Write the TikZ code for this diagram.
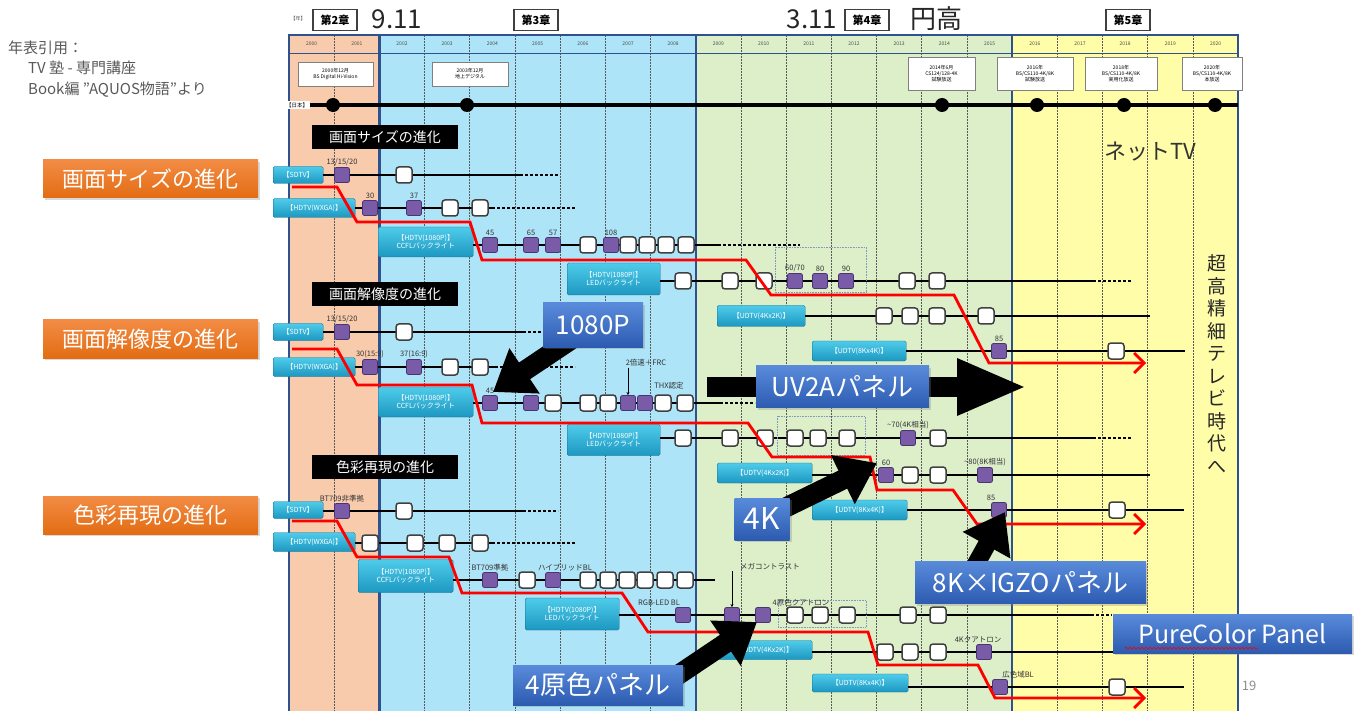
\documentclass[tikz,border=0pt]{standalone}
\usepackage{fontspec}
\setmainfont{Noto Sans CJK JP}
\usepackage{xcolor}
\usepackage{tikz}
\usetikzlibrary{calc, positioning, arrows.meta, shadows, decorations.pathmorphing}

\definecolor{peach}{HTML}{F8CBAD}
\definecolor{skyB}{HTML}{AEE4F7}
\definecolor{leaf}{HTML}{DCEFC9}
\definecolor{lemon}{HTML}{FFFDA8}
\definecolor{frameB}{HTML}{2F528F}
\definecolor{purp}{HTML}{7A5BA8}
\definecolor{purpD}{HTML}{4B3472}
\definecolor{cyanT}{HTML}{4FCBEA}
\definecolor{cyanB}{HTML}{1C98C2}
\definecolor{oranT}{HTML}{F28C45}
\definecolor{oranB}{HTML}{E36C12}
\definecolor{blueT}{HTML}{5A8BDB}
\definecolor{blueB}{HTML}{2C5BB0}

\pgfdeclarelayer{front}
\pgfsetlayers{main,front}

\begin{document}
\begin{tikzpicture}[x=1pt, y=-1pt, >=latex,
    tvlbl/.style={anchor=west, rounded corners=1.5pt, top color=cyanT, bottom color=cyanB,
        draw=cyanB!70!black, line width=0.4pt, text=white, align=center,
        font=\fontsize{7}{8}\selectfont, inner sep=1pt},
    psq/.style={rounded corners=2pt, minimum size=15pt, inner sep=0pt, fill=purp, draw=purpD, line width=0.8pt},
    wsq/.style={rounded corners=3pt, minimum size=16pt, inner sep=0pt, fill=white, draw=black!75, line width=1.5pt},
    numtag/.style={font=\fontsize{7.5}{8}\selectfont, text=black!80, inner sep=1pt},
    rowline/.style={line width=2.8pt},
    rowdash/.style={line width=1.3pt, dash pattern=on 3pt off 2pt},
    redpath/.style={line width=2.8pt, red, -{Straight Barb[length=10pt, width=20pt]}},
    secbox/.style={fill=black, text=white, font=\fontsize{14}{15}\selectfont, minimum width=146pt, minimum height=24pt, inner sep=0pt},
    orglbl/.style={top color=oranT, bottom color=oranB, text=white, font=\fontsize{22}{24}\selectfont,
        minimum width=215pt, minimum height=38pt, inner sep=0pt,
        drop shadow={opacity=0.3, shadow xshift=1.5pt, shadow yshift=-2pt}},
    bluebox/.style={top color=blueT, bottom color=blueB, text=white, font=\fontsize{26}{28}\selectfont,
        minimum height=42pt, inner xsep=2pt, drop shadow={opacity=0.3, shadow xshift=2pt, shadow yshift=-2pt}},
    bigarr/.style={line width=20pt, -{Triangle[length=38pt, width=52pt]}},
    evbox/.style={fill=white, draw=black!50, line width=0.6pt, align=center, font=\fontsize{5}{6}\selectfont,
        inner sep=1pt, drop shadow={opacity=0.25, shadow xshift=1pt, shadow yshift=-1pt}},
    chap/.style={draw=black!75, line width=1.4pt, fill=white, font=\bfseries\fontsize{11}{12}\selectfont,
        minimum width=44pt, minimum height=21pt, inner sep=1pt},
    bigdate/.style={font=\fontsize{26}{28}\selectfont, text=black!85, inner sep=0pt},
    srcnote/.style={anchor=west, text=black!65, font=\fontsize{15}{16}\selectfont, inner sep=0pt},
    yr/.style={font=\fontsize{5}{6}\selectfont, text=black!70, inner sep=0pt},
    yrgrid/.style={black!65, line width=0.7pt, dash pattern=on 2pt off 1pt},
    eraline/.style={frameB, line width=2.4pt},
    dotbox/.style={draw=frameB!60, line width=0.6pt, densely dotted},
    evdot/.style={circle, fill=black, minimum size=14pt, inner sep=0pt}
]
\useasboundingbox (0,0) rectangle (1360,711);

% Nền các giai đoạn
\fill[peach] (289,35) rectangle (379.4,711);
\fill[skyB] (379.4,35) rectangle (695.8,711);
\fill[leaf] (695.8,35) rectangle (1012.2,711);
\fill[lemon] (1012.2,35) rectangle (1238,711);

% Năm
\foreach \i in {0,...,20}
    \node[yr] (yr\i) at ({289+(\i+0.5)*45.2},44) {\pgfmathparse{int(2000+\i)}\pgfmathresult};
\foreach \i in {1,3,4,...,8,10,11,...,15,17,18,19,20}
    \draw[yrgrid] ({289+\i*45.2},35) -- ({289+\i*45.2},711);
\draw[frameB, line width=0.8pt] (289,53) -- (1238,53);
\foreach \i in {0,2,9,16,21}
    \draw[eraline] ({289+\i*45.2},35) -- ({289+\i*45.2},711);
\draw[eraline] (288,35) -- (1239,35);

% Chương
\node[yr] (yrtag) at (298,19) {【年】};
\node[chap] (ch2) at (335,20) {第2章};
\node[bigdate] (d911) at (397,19) {9.11};
\node[chap] (ch3) at (536,20) {第3章};
\node[bigdate] (d311) at (812,19) {3.11};
\node[chap] (ch4) at (867,20) {第4章};
\node[bigdate] (yen) at (936,19) {円高};
\node[chap] (ch5) at (1128,20) {第5章};

% Nguồn
\node[srcnote] (src1) at (8,48) {年表引用：};
\node[srcnote] (src2) at (28,68) {TV 塾 - 専門講座};
\node[srcnote] (src3) at (28,90) {Book編 "AQUOS物語"より};

% Sự kiện phát sóng
\node[evbox, minimum width=75pt, minimum height=24pt] (ev1) at (335.5,74) {2000年12月\\BS Digital Hi-Vision};
\node[evbox, minimum width=76pt, minimum height=24pt] (ev2) at (470,74) {2003年12月\\地上デジタル};
\node[evbox, minimum width=67pt, minimum height=33pt] (ev3) at (941.5,73.5) {2014年6月\\CS124/128-4K\\試験放送};
\node[evbox, minimum width=76pt, minimum height=33pt] (ev4) at (1035,73.5) {2016年\\BS/CS110-4K/8K\\試験放送};
\node[evbox, minimum width=72pt, minimum height=33pt] (ev5) at (1121,73.5) {2018年\\BS/CS110-4K/8K\\実用化放送};
\node[evbox, minimum width=60pt, minimum height=33pt] (ev6) at (1212,73.5) {2020年\\BS/CS110-4K/8K\\本放送};

% Trục thời gian
\node[fill=white, font=\fontsize{5.5}{6}\selectfont, inner sep=1.5pt] (jp) at (297,105) {【日本】};
\coordinate (tlend) at (1238,105);
\draw[line width=3.5pt] (jp.east) -- (tlend);
\foreach \x [count=\i] in {333,467,942,1037,1124,1215}
    \node[evdot] (pt\i) at (\x,105) {};

% Tiêu đề
\node[secbox] (h1) at (385,137.5) {画面サイズの進化};
\node[secbox] (h2) at (385,294.5) {画面解像度の進化};
\node[secbox] (h3) at (385,467) {色彩再現の進化};
\node[orglbl] (o1) at (150.5,179) {画面サイズの進化};
\node[orglbl] (o2) at (150.5,339) {画面解像度の進化};
\node[orglbl] (o3) at (150.5,515) {色彩再現の進化};
\node[font=\fontsize{22}{24}\selectfont, text=black!80] (net) at (1150,152) {ネットTV};
\node[font=\fontsize{19}{22.5}\selectfont, align=center, inner sep=0pt, text=black!85] (uhd) at (1217,364)
    {超\\高\\精\\細\\テ\\レ\\ビ\\時\\代\\へ};

% ---------- 画面サイズの進化 ----------
\node[tvlbl, minimum width=50pt, minimum height=17pt] (a1) at (273,175) {【SDTV】};
\node[tvlbl, minimum width=82pt, minimum height=19pt] (a2) at (273,208) {【HDTV(WXGA)】};
\node[tvlbl, minimum width=95pt, minimum height=30pt] (a3) at (378,242) {【HDTV(1080P)】\\CCFLバックライト};
\node[tvlbl, minimum width=93pt, minimum height=32pt] (a4) at (567,279) {【HDTV(1080P)】\\LEDバックライト};
\node[tvlbl, minimum width=88pt, minimum height=21pt] (a5) at (717,316) {【UDTV(4Kx2K)】};
\node[tvlbl, minimum width=94pt, minimum height=20pt] (a6) at (812,351) {【UDTV(8Kx4K)】};
\coordinate (a1e) at (520,175); \coordinate (a1d) at (558,175);
\coordinate (a2e) at (492,208); \coordinate (a2d) at (575,208);
\coordinate (a3e) at (718,245); \coordinate (a3d) at (800,245);
\coordinate (a4e) at (1093,281); \coordinate (a4d) at (1132,281);
\coordinate (a5e) at (1150,316);
\coordinate (a6e) at (1185,351);
\draw[rowline] (a1.east) -- (a1e); \draw[rowdash] (a1e) -- (a1d);
\draw[rowline] (a2.east) -- (a2e); \draw[rowdash] (a2e) -- (a2d);
\draw[rowline] (a3.east |- a3e) -- (a3e); \draw[rowdash] (a3e) -- (a3d);
\draw[rowline] (a4.east |- a4e) -- (a4e); \draw[rowdash] (a4e) -- (a4d);
\draw[rowline] (a5.east) -- (a5e);
\draw[rowline] (a6.east) -- (a6e);
\draw[dotbox] (775,247) rectangle (866,292);
\node[psq, label={[numtag]above:13/15/20}] (a1s1) at (342,175) {};
\node[wsq] (a1s2) at (404,175) {};
\node[psq, label={[numtag]above:30}] (a2s1) at (370,208) {};
\node[psq, label={[numtag]above:37}] (a2s2) at (414,208) {};
\foreach \x [count=\k] in {450,480} \node[wsq] (a2w\k) at (\x,208) {};
\node[psq, label={[numtag]above:45}] (a3s1) at (490,245) {};
\node[psq, label={[numtag]above:65}] (a3s2) at (531,245) {};
\node[psq, label={[numtag]above:57}] (a3s3) at (553,245) {};
\node[wsq] (a3s4) at (588,245) {};
\node[psq, label={[numtag]above:108}] (a3s5) at (611,245) {};
\foreach \x [count=\k] in {628,647,666,686} \node[wsq] (a3w\k) at (\x,245) {};
\foreach \x [count=\k] in {683,730,764,907,937} \node[wsq] (a4w\k) at (\x,281) {};
\node[psq, label={[numtag]above:60/70}] (a4s1) at (795,281) {};
\node[psq, label={[numtag]above:80}] (a4s2) at (820,281) {};
\node[psq, label={[numtag]above:90}] (a4s3) at (846,281) {};
\foreach \x [count=\k] in {884,910,937,986} \node[wsq] (a5w\k) at (\x,316) {};
\node[psq, label={[numtag]above:85}] (a6s1) at (999,351) {};
\node[wsq] (a6s2) at (1116,351) {};

% ---------- 画面解像度の進化 ----------
\node[tvlbl, minimum width=50pt, minimum height=17pt] (b1) at (273,332) {【SDTV】};
\node[tvlbl, minimum width=82pt, minimum height=19pt] (b2) at (273,367) {【HDTV(WXGA)】};
\node[tvlbl, minimum width=95pt, minimum height=30pt] (b3) at (378,402) {【HDTV(1080P)】\\CCFLバックライト};
\node[tvlbl, minimum width=93pt, minimum height=31pt] (b4) at (567,440) {【HDTV(1080P)】\\LEDバックライト};
\node[tvlbl, minimum width=95pt, minimum height=20pt] (b5) at (717,473) {【UDTV(4Kx2K)】};
\node[tvlbl, minimum width=95pt, minimum height=20pt] (b6) at (812,510) {【UDTV(8Kx4K)】};
\coordinate (b1e) at (523,332); \coordinate (b1d) at (550,332);
\coordinate (b2e) at (495,367); \coordinate (b2d) at (575,367);
\coordinate (b3e) at (720,403); \coordinate (b3d) at (755,403);
\coordinate (b4e) at (1093,438); \coordinate (b4d) at (1132,438);
\coordinate (b5e) at (1150,475);
\coordinate (b6e) at (1184,510);
\draw[rowline] (b1.east) -- (b1e); \draw[rowdash] (b1e) -- (b1d);
\draw[rowline] (b2.east) -- (b2e); \draw[rowdash] (b2e) -- (b2d);
\draw[rowline] (b3.east |- b3e) -- (b3e); \draw[rowdash] (b3e) -- (b3d);
\draw[rowline] (b4.east |- b4e) -- (b4e); \draw[rowdash] (b4e) -- (b4d);
\draw[rowline] (b5.east |- b5e) -- (b5e);
\draw[rowline] (b6.east) -- (b6e);
\draw[dotbox] (777,416) rectangle (865,455);
\node[psq, label={[numtag]above:13/15/20}] (b1s1) at (342,332) {};
\node[wsq] (b1s2) at (404,332) {};
\node[psq, label={[numtag]above:{30(15:9)}}] (b2s1) at (370,367) {};
\node[psq, label={[numtag]above:{37(16:9)}}] (b2s2) at (414,367) {};
\foreach \x [count=\k] in {450,480} \node[wsq] (b2w\k) at (\x,367) {};
\node[psq, label={[numtag]above:45}] (b3s1) at (490,403) {};
\node[psq, label={[numtag]above:65}] (b3s2) at (531,403) {};
\foreach \x [count=\k] in {553,588,608,663,685} \node[wsq] (b3w\k) at (\x,403) {};
\node[psq] (b3s6) at (628,403) {};
\node[psq] (b3s7) at (645,403) {};
\node[numtag] (frc) at (646,363) {2倍速＋FRC};
\node[numtag] (thx) at (669,386) {THX認定};
\draw[-{Stealth[length=3pt, width=3pt]}, line width=0.6pt] (frc.south -| b3s6) -- (b3s6.north);
\foreach \x [count=\k] in {683,730,765,795,818,847,938} \node[wsq] (b4w\k) at (\x,438) {};
\node[psq, label={[numtag]above:\textasciitilde70(4K相当)}] (b4s1) at (908,438) {};
\node[psq, label={[numtag]above:60}] (b5s1) at (886,475) {};
\foreach \x [count=\k] in {910,938} \node[wsq] (b5w\k) at (\x,475) {};
\node[psq, label={[numtag]above:\textasciitilde80(8K相当)}] (b5s2) at (985,475) {};
\node[psq, label={[numtag, xshift=-8pt]above:85}] (b6s1) at (999,510) {};
\node[wsq] (b6s2) at (1117,510) {};

% ---------- 色彩再現の進化 ----------
\node[tvlbl, minimum width=50pt, minimum height=17pt] (c1) at (273,510) {【SDTV】};
\node[tvlbl, minimum width=82pt, minimum height=19pt] (c2) at (273,542) {【HDTV(WXGA)】};
\node[tvlbl, minimum width=95pt, minimum height=33pt] (c3) at (358,576) {【HDTV(1080P)】\\CCFLバックライト};
\node[tvlbl, minimum width=94pt, minimum height=32pt] (c4) at (525,614) {【HDTV(1080P)】\\LEDバックライト};
\node[tvlbl, minimum width=95pt, minimum height=19pt] (c5) at (717,650) {【UDTV(4Kx2K)】};
\node[tvlbl, minimum width=96pt, minimum height=18pt] (c6) at (812,683) {【UDTV(8Kx4K)】};
\coordinate (c1e) at (523,511); \coordinate (c1d) at (558,511);
\coordinate (c2e) at (492,543); \coordinate (c2d) at (575,543);
\coordinate (c3e) at (715,580);
\coordinate (c4e) at (1091,615); \coordinate (c4d) at (1112,615);
\coordinate (c5e) at (1115,652);
\coordinate (c6e) at (1184,687);
\draw[rowline] (c1.east |- c1e) -- (c1e); \draw[rowdash] (c1e) -- (c1d);
\draw[rowline] (c2.east |- c2e) -- (c2e); \draw[rowdash] (c2e) -- (c2d);
\draw[rowline] (c3.east |- c3e) -- (c3e);
\draw[rowline] (c4.east |- c4e) -- (c4e); \draw[rowdash] (c4e) -- (c4d);
\draw[rowline] (c5.east |- c5e) -- (c5e);
\draw[rowline] (c6.east |- c6e) -- (c6e);
\draw[dotbox] (778,600) rectangle (866,627);
\node[psq, label={[numtag]above:BT709非準拠}] (c1s1) at (342,511) {};
\node[wsq] (c1s2) at (404,511) {};
\foreach \x [count=\k] in {370,415,447,480} \node[wsq] (c2w\k) at (\x,543) {};
\node[psq, label={[numtag]above:BT709準拠}] (c3s1) at (490,580) {};
\node[psq, label={[numtag, xshift=12pt]above:ハイブリッドBL}] (c3s2) at (553,580) {};
\foreach \x [count=\k] in {527,588,608,627,645,665,685} \node[wsq] (c3w\k) at (\x,580) {};
\node[psq, label={[numtag, xshift=-24pt]above:RGB-LED BL}] (c4s1) at (683,615) {};
\node[psq] (c4s2) at (732,615) {};
\node[psq, label={[numtag, xshift=38pt]above:4原色クアトロン}] (c4s3) at (763,615) {};
\foreach \x [count=\k] in {795,820,847,908,938} \node[wsq] (c4w\k) at (\x,615) {};
\node[numtag] (mega) at (770,567) {メガコントラスト};
\draw[-{Stealth[length=3pt, width=3pt]}, line width=0.6pt] (mega.south -| c4s2) -- (c4s2.north);
\foreach \x [count=\k] in {885,910,938} \node[wsq] (c5w\k) at (\x,652) {};
\node[psq, label={[numtag, xshift=-6pt]above:4Kクアトロン}] (c5s1) at (984,652) {};
\node[psq, label={[numtag, xshift=18pt]above:広色域BL}] (c6s1) at (1000,687) {};
\node[wsq] (c6s2) at (1117,687) {};

% Đường phát triển (đỏ)
\draw[redpath] (292,187) -- (337,187) -- (357,222) -- (470,222) -- (482,260) -- (746,260)
    -- (771,295) -- (954,295) -- (989,363) -- (1146,363);
\draw[redpath] (292,349) -- (337,349) -- (357,385) -- (472,385) -- (482,423) -- (748,423)
    -- (772,457) -- (870,457) -- (877,490) -- (953,490) -- (977,524) -- (1146,524);
\draw[redpath] (292,521) -- (337,521) -- (357,557) -- (449,557) -- (462,593) -- (622,593)
    -- (648,632) -- (868,632) -- (878,665) -- (978,665) -- (995,698) -- (1146,698);

% Chú thích xanh (lớp trước)
\begin{pgfonlayer}{front}
\node[bluebox, minimum width=100pt, minimum height=44pt] (c1080) at (593,325) {1080P};
\node[bluebox, minimum width=173pt] (cuv) at (842.5,386.5) {UV2Aパネル};
\node[bluebox, minimum width=55pt, font=\fontsize{30}{32}\selectfont] (c4k) at (762,519) {4K};
\node[bluebox, minimum width=231pt] (c8k) at (1030.5,582.5) {8K×IGZOパネル};
\node[bluebox, minimum width=170pt, minimum height=40pt] (c4p) at (598,685) {4原色パネル};
\node[bluebox, minimum width=239pt, minimum height=39pt, font=\fontsize{25}{27}\selectfont] (cpc) at (1232.5,633.5) {PureColor Panel};
\draw[red, line width=0.6pt, decorate, decoration={snake, amplitude=1pt, segment length=4pt}]
    ($(cpc.south west)+(12,-5)$) -- ($(cpc.south west)+(145,-5)$);
\end{pgfonlayer}

% Mũi tên đen
\coordinate (t1080) at (493,392);
\coordinate (uvtail) at (707,387); \coordinate (uvtip) at (1027,387);
\coordinate (t4k) at (877,463);
\coordinate (t8k) at (1005,512);
\coordinate (t4p) at (757,622);
\draw[bigarr] (c1080.center) -- (t1080);
\draw[line width=20pt, -{Triangle[length=70pt, width=52pt]}] (uvtail) -- (uvtip);
\draw[bigarr] (c4k.center) -- (t4k);
\draw[bigarr, line width=18pt] ($(c8k.west)!0.22!(c8k.east)$) -- (t8k);
\draw[bigarr] ($(c4p.east)+(-20,0)$) -- (t4p);

\node[font=\fontsize{13}{14}\selectfont, text=black!45] (pg) at (1249,686) {19};
\end{tikzpicture}
\end{document}
